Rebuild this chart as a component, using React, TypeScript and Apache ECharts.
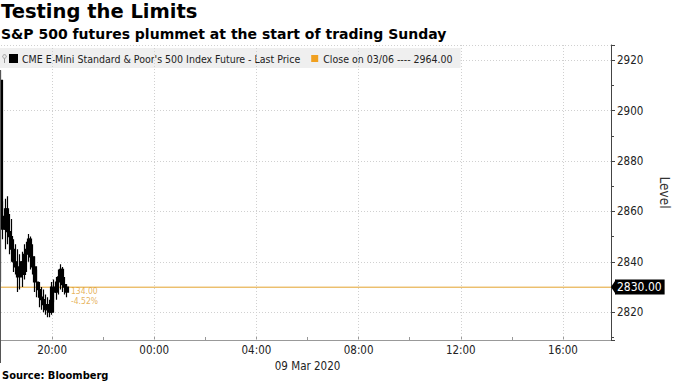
import React, { useEffect, useRef } from "react";
import * as echarts from "echarts";

const TITLE = "Testing the Limits";
const SUBTITLE = "S&P 500 futures plummet at the start of trading Sunday";
const SOURCE = "Source: Bloomberg";
const SERIES_NAME = "CME E-Mini Standard & Poor's 500 Index Future - Last Price";
const PREV_CLOSE = 2964.0;
const LIMIT_MOVE = 134.0;
const LIMIT_PCT = -4.52;
const LIMIT = PREV_CLOSE - LIMIT_MOVE;
const CLOSE_NAME = `Close on 03/06 ---- ${PREV_CLOSE.toFixed(2)}`;
const Y_NAME = "Level";

// 5-minute bars starting Sunday 08 Mar 2020 18:00 (hours since 08 Mar 00:00)
const START_HOUR = 18;
const BAR_MINUTES = 5;
const opens = [2912, 2858, 2853, 2861, 2852, 2850, 2845, 2840, 2838, 2834, 2840, 2835, 2843, 2845, 2849, 2842, 2838, 2832, 2829, 2826, 2825, 2823, 2821, 2823, 2820, 2830, 2828, 2832, 2834, 2837, 2831, 2830];
const highs = [2916, 2864, 2865, 2866, 2859, 2857, 2849, 2847, 2845, 2843, 2844, 2847, 2848, 2851, 2850, 2847, 2842, 2837, 2832, 2830, 2829, 2827, 2826, 2825, 2832, 2833, 2834, 2837, 2839, 2838, 2834, 2831];
const lows = [2832, 2849, 2845, 2847, 2843, 2840, 2836, 2835, 2828, 2829, 2830, 2833, 2836, 2840, 2837, 2835, 2828, 2826, 2822, 2821, 2820, 2819, 2818, 2818, 2819, 2824, 2825, 2827, 2829, 2828, 2827, 2826];
const closes = [2858, 2853, 2861, 2852, 2850, 2845, 2840, 2838, 2834, 2840, 2835, 2843, 2845, 2849, 2842, 2838, 2832, 2829, 2826, 2825, 2823, 2821, 2823, 2820, 2830, 2828, 2832, 2834, 2837, 2831, 2830, 2828];

const X_MIN = 18;
const X_MAX = 41.88;
const GRID_HOURS = [20, 24, 28, 32, 36, 40];
const DATE_LABEL_HOUR = 30;
const Y_MIN = 2809;
const Y_MAX = 2926;

const FONT = "'DejaVu Sans Condensed', 'DejaVu Sans', sans-serif";
const MONTHS = ["Jan", "Feb", "Mar", "Apr", "May", "Jun", "Jul", "Aug", "Sep", "Oct", "Nov", "Dec"];
const LINE_COLOR = "#ecbf6e";

function pad(n: number) {
  return n < 10 ? "0" + n : String(n);
}

export default function App() {
  const ref = useRef<HTMLDivElement>(null);

  useEffect(() => {
    if (!ref.current) return;
    const chart = echarts.init(ref.current, undefined, { renderer: "svg" });

    const candles = opens.map((o, i) => [
      START_HOUR + (i * BAR_MINUTES) / 60,
      o,
      closes[i],
      lows[i],
      highs[i],
    ]);
    const lastHour = START_HOUR + ((opens.length - 1) * BAR_MINUTES) / 60;

    const xLabel = (v: number) => {
      if (Math.abs(v - Math.round(v)) > 1e-6) return "";
      const d = new Date(Date.UTC(2020, 2, 8) + v * 3600e3);
      if (v % 4 === 0) return pad(d.getUTCHours()) + ":00";
      if (v === DATE_LABEL_HOUR)
        return "\n" + pad(d.getUTCDate()) + " " + MONTHS[d.getUTCMonth()] + " " + d.getUTCFullYear();
      return "";
    };

    chart.setOption({
      animation: false,
      textStyle: { fontFamily: FONT },
      title: [
        {
          text: TITLE,
          left: 1,
          top: 1,
          padding: 0,
          textStyle: { fontFamily: "'DejaVu Sans', sans-serif", fontSize: 19.5, fontWeight: "bold", color: "#000" },
        },
        {
          text: SUBTITLE,
          left: 1,
          top: 27,
          padding: 0,
          textStyle: { fontFamily: "'DejaVu Sans', sans-serif", fontSize: 14, fontWeight: "bold", color: "#000" },
        },
        {
          text: SOURCE,
          left: 2,
          top: 370,
          padding: 0,
          textStyle: { fontFamily: FONT, fontSize: 11, fontWeight: "bold", color: "#000" },
        },
      ],
      legend: {
        data: [SERIES_NAME, CLOSE_NAME],
        left: 0,
        top: 48,
        padding: [5, 8, 4, 9],
        backgroundColor: "#efefef",
        itemWidth: 7,
        itemHeight: 7,
        itemGap: 11,
        icon: "rect",
        selectedMode: false,
        textStyle: { fontFamily: FONT, fontSize: 10.5, color: "#222" },
      },
      graphic: [
        { type: "line", shape: { x1: 0.5, y1: 70, x2: 0.5, y2: 363 }, style: { stroke: "#555", lineWidth: 1 }, z: 10 },
        { type: "circle", shape: { cx: 4.5, cy: 56.5, r: 1.8 }, style: { fill: "none", stroke: "#999", lineWidth: 1 }, z: 10 },
        { type: "line", shape: { x1: 4.5, y1: 58.5, x2: 4.5, y2: 63 }, style: { stroke: "#999", lineWidth: 1 }, z: 10 },
      ],
      grid: { left: 1, right: 69, top: 45, bottom: 43, containLabel: false },
      xAxis: {
        type: "value",
        min: X_MIN,
        max: X_MAX,
        interval: 2,
        axisLine: { show: true, lineStyle: { color: "#999", width: 1 } },
        axisTick: { show: true, inside: true, length: 3, lineStyle: { color: "#999" } },
        axisLabel: {
          formatter: xLabel,
          fontFamily: FONT,
          fontSize: 11.5,
          color: "#222",
          margin: 2,
          lineHeight: 16,
          showMinLabel: false,
          showMaxLabel: false,
        },
        splitLine: { show: false },
      },
      yAxis: {
        type: "value",
        position: "right",
        min: Y_MIN,
        max: Y_MAX,
        scale: true,
        axisLine: { show: true, lineStyle: { color: "#444", width: 1 } },
        axisTick: { show: true, length: 4, lineStyle: { color: "#444" } },
        minorTick: { show: true, splitNumber: 2, length: 3, lineStyle: { color: "#444" } },
        axisLabel: {
          fontFamily: FONT,
          fontSize: 11.5,
          color: "#222",
          margin: 6,
          showMinLabel: false,
          showMaxLabel: false,
          formatter: (v: number) => (v % 20 === 0 ? String(v) : ""),
        },
        splitLine: { show: true, lineStyle: { color: "#d0d0d0", type: [1, 2], width: 1 } },
        name: Y_NAME,
        nameLocation: "middle",
        nameRotate: -90,
        nameGap: 47,
        nameTextStyle: { fontFamily: FONT, fontSize: 13.5, color: "#333" },
      },
      series: [
        {
          name: "_grid",
          type: "line",
          data: [],
          z: 1,
          silent: true,
          markLine: {
            silent: true,
            symbol: ["none", "none"],
            label: { show: false },
            lineStyle: { color: "#d0d0d0", type: [1, 2], width: 1 },
            data: GRID_HOURS.map((h) => ({ xAxis: h })),
          },
        },
        {
          name: CLOSE_NAME,
          type: "line",
          data: [
            [X_MIN, LIMIT],
            [X_MAX, LIMIT],
          ],
          z: 3,
          showSymbol: false,
          symbol: "none",
          silent: true,
          itemStyle: { color: "#f0a020" },
          lineStyle: { color: LINE_COLOR, width: 1, type: "solid" },
          markLine: {
            silent: true,
            symbol: ["none", "none"],
            lineStyle: { color: LINE_COLOR, type: "solid", width: 1 },
            label: {
              show: true,
              position: "end",
              distance: 4,
              formatter: () => LIMIT.toFixed(2),
              color: "#fff",
              backgroundColor: "#000",
              padding: [2, 3, 1, 2],
              fontFamily: FONT,
              fontSize: 12,
            },
            data: [{ yAxis: LIMIT }],
          },
          markPoint: {
            silent: true,
            symbol: "triangle",
            symbolSize: [15, 5],
            symbolRotate: 90,
            symbolOffset: [2.5, 0],
            itemStyle: { color: "#000" },
            label: { show: false },
            data: [{ coord: [X_MAX, LIMIT] }],
          },
        },
        {
          name: SERIES_NAME,
          type: "candlestick",
          z: 5,
          barWidth: 2.8,
          itemStyle: { color: "#000", color0: "#000", borderColor: "#000", borderColor0: "#000", borderWidth: 1.2 },
          data: candles,
        },
        {
          name: "_ann",
          type: "scatter",
          z: 6,
          silent: true,
          symbolSize: 0,
          itemStyle: { color: "rgba(0,0,0,0)" },
          label: {
            show: true,
            position: "right",
            distance: 4,
            offset: [0, 9],
            formatter: () => `${LIMIT_MOVE.toFixed(2)}\n${LIMIT_PCT.toFixed(2)}%`,
            color: "#e0a030",
            fontFamily: FONT,
            fontSize: 8.5,
            lineHeight: 9.5,
          },
          data: [[lastHour, LIMIT]],
        },
      ],
    });

    return () => chart.dispose();
  }, []);

  return (
    <div
      ref={ref}
      style={{ position: "fixed", left: 0, top: 0, width: 680, height: 383, background: "#fff" }}
    />
  );
}
